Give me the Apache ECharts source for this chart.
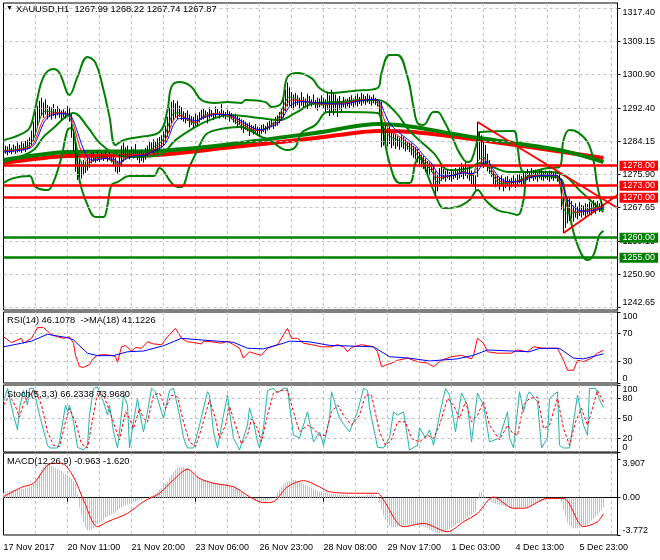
<!DOCTYPE html>
<html><head><meta charset="utf-8">
<script src="https://cdn.jsdelivr.net/npm/echarts@6/dist/echarts.min.js"></script>
<style>html,body{margin:0;padding:0;background:#fff}#c{width:660px;height:560px}</style>
</head><body><div id="c"></div>
<script>
// ---------- DATA ----------
const timeLabels = ["17 Nov 2017","20 Nov 11:00","21 Nov 20:00","23 Nov 06:00","26 Nov 23:00","28 Nov 08:00","29 Nov 17:00","1 Dec 03:00","4 Dec 13:00","5 Dec 23:00"];
const priceTicks = [1242.65,1250.90,1259.15,1267.65,1275.90,1284.15,1292.40,1300.90,1309.15,1317.40];
const rsiTicks = [0,30,70,100];
const rsiLevels = [70,30];
const stochTicks = [0,20,50,80,100];
const stochLevels = [80,50,20];
const macdTicks = [-3.772,0,3.907];
const macdTickLabels = ["-3.772","0.00","3.907"];
const resistanceLevels = [1278.00,1273.00,1270.00];
const supportLevels = [1260.00,1255.00];
const lastPrice = 1267.87;

// H1 bars: [low, high]
const bars = [
[1280.3,1283.6],[1281.0,1283.0],[1280.6,1282.8],[1281.2,1283.4],[1280.9,1282.5],[1281.4,1283.3],[1281.0,1282.9],[1281.3,1283.8],[1281.5,1283.2],[1281.2,1284.0],
[1281.8,1283.6],[1281.4,1284.2],[1282.0,1284.5],[1282.3,1285.1],[1283.0,1286.8],[1284.2,1289.0],[1285.5,1291.5],[1287.8,1293.0],[1289.0,1294.2],[1290.5,1295.0],
[1290.0,1293.8],[1290.8,1294.6],[1289.6,1293.2],[1290.2,1292.8],[1289.5,1292.6],[1290.4,1293.4],[1289.8,1292.2],[1290.6,1292.9],[1290.0,1292.4],[1289.4,1291.8],
[1290.2,1292.1],[1289.8,1291.6],[1290.4,1292.9],[1289.0,1292.5],[1285.0,1291.0],[1281.5,1287.0],[1276.5,1284.0],[1274.4,1281.0],[1275.2,1279.8],[1274.8,1279.0],
[1275.6,1279.4],[1276.2,1279.0],[1276.8,1280.2],[1277.5,1280.0],[1278.6,1281.2],[1279.0,1281.5],[1278.8,1280.6],[1279.2,1281.8],[1279.0,1280.9],[1279.5,1281.6],
[1279.2,1281.0],[1279.6,1281.9],[1279.0,1280.8],[1279.4,1281.4],[1278.8,1280.6],[1278.0,1280.2],[1276.5,1280.0],[1276.0,1279.2],[1276.4,1280.8],[1277.8,1283.0],
[1279.0,1283.8],[1279.5,1282.6],[1280.0,1283.0],[1279.6,1281.9],[1280.4,1282.8],[1279.8,1282.2],[1280.2,1283.4],[1279.4,1281.8],[1278.6,1281.5],[1279.2,1282.0],
[1278.8,1281.2],[1279.5,1282.4],[1280.2,1283.0],[1280.8,1284.2],[1281.2,1283.8],[1281.0,1284.6],[1281.6,1283.9],[1281.2,1284.8],[1282.0,1285.2],[1282.4,1285.6],
[1283.0,1286.6],[1283.8,1288.0],[1285.2,1290.2],[1286.4,1292.5],[1288.6,1294.0],[1289.4,1294.4],[1290.0,1293.6],[1289.6,1294.2],[1290.2,1293.0],[1289.4,1292.6],
[1289.0,1291.6],[1288.6,1291.2],[1289.2,1291.8],[1287.6,1290.8],[1288.2,1290.4],[1287.4,1290.2],[1288.0,1291.0],[1287.8,1290.6],[1288.8,1291.4],[1289.4,1292.0],
[1289.6,1292.2],[1290.0,1291.8],[1288.6,1291.4],[1289.8,1292.6],[1290.2,1291.9],[1289.4,1291.2],[1290.0,1292.8],[1290.6,1292.2],[1289.8,1291.6],[1290.4,1293.4],
[1290.0,1291.8],[1289.6,1291.4],[1290.2,1292.0],[1289.0,1291.6],[1289.6,1291.2],[1288.8,1290.8],[1288.4,1291.0],[1287.6,1290.4],[1288.2,1290.0],[1287.0,1289.6],
[1286.2,1289.4],[1287.0,1289.0],[1286.6,1288.6],[1285.4,1288.8],[1286.4,1288.2],[1285.8,1288.0],[1286.2,1288.4],[1285.6,1287.8],[1285.2,1287.6],[1286.0,1288.2],
[1286.4,1288.4],[1286.0,1288.0],[1286.8,1288.8],[1287.0,1289.2],[1287.6,1289.6],[1287.2,1289.0],[1287.8,1290.2],[1288.0,1290.6],[1288.6,1291.4],[1289.2,1292.4],
[1290.0,1294.6],[1291.6,1297.0],[1292.8,1298.8],[1293.0,1297.6],[1292.4,1296.4],[1292.0,1295.8],[1292.8,1296.2],[1293.2,1295.6],[1292.4,1295.0],[1293.0,1296.4],
[1292.6,1295.2],[1293.0,1294.8],[1292.2,1296.0],[1293.4,1295.4],[1292.8,1294.6],[1293.2,1295.8],[1292.4,1294.4],[1291.8,1295.0],[1292.6,1294.8],[1293.0,1295.6],
[1292.2,1295.0],[1291.4,1294.6],[1292.0,1296.4],[1290.4,1295.6],[1291.2,1297.0],[1290.6,1296.2],[1291.8,1295.8],[1290.2,1294.8],[1292.0,1295.4],[1291.4,1294.0],
[1292.6,1295.2],[1292.2,1294.6],[1292.8,1294.8],[1292.4,1295.2],[1293.0,1295.6],[1292.6,1294.8],[1293.2,1295.4],[1292.8,1296.0],[1293.4,1295.2],[1293.0,1296.2],
[1293.6,1295.8],[1293.2,1295.4],[1293.8,1296.0],[1293.4,1295.6],[1293.0,1295.2],[1293.6,1295.8],[1293.2,1295.0],[1292.8,1294.6],[1291.0,1294.4],[1282.6,1294.0],
[1283.0,1288.6],[1283.6,1288.2],[1282.8,1287.4],[1283.4,1287.8],[1282.4,1286.6],[1283.0,1286.0],[1282.2,1285.8],[1282.8,1285.4],[1282.0,1285.0],[1282.6,1285.6],
[1282.2,1285.2],[1281.6,1284.6],[1282.0,1284.2],[1281.4,1283.8],[1280.6,1283.6],[1280.0,1283.0],[1279.6,1282.6],[1278.8,1282.2],[1278.4,1281.4],[1277.6,1280.8],
[1277.2,1280.4],[1276.6,1279.8],[1276.0,1279.2],[1275.6,1278.8],[1276.4,1278.6],[1273.0,1278.0],[1270.4,1276.6],[1271.6,1276.0],[1273.4,1277.4],[1274.2,1277.8],
[1274.6,1277.2],[1274.0,1276.8],[1274.8,1277.0],[1274.4,1276.4],[1274.0,1277.2],[1274.6,1276.6],[1275.0,1277.4],[1274.4,1276.8],[1274.8,1277.6],[1275.2,1278.6],
[1274.6,1278.0],[1275.4,1278.8],[1274.8,1277.6],[1274.2,1278.2],[1273.4,1276.8],[1272.8,1276.2],[1272.0,1275.6],[1275.2,1288.9],[1279.6,1286.4],[1278.8,1285.6],
[1277.4,1284.0],[1277.8,1283.2],[1276.6,1281.0],[1276.0,1279.4],[1275.2,1278.0],[1273.4,1276.6],[1272.6,1275.8],[1273.2,1275.4],[1272.0,1275.0],[1272.8,1275.6],
[1271.6,1274.8],[1272.4,1275.2],[1273.0,1275.4],[1271.8,1274.6],[1272.6,1275.0],[1273.2,1275.6],[1272.4,1274.8],[1273.0,1275.8],[1273.6,1276.0],[1272.8,1275.4],
[1273.4,1276.2],[1274.0,1276.6],[1274.4,1277.2],[1274.0,1276.6],[1274.8,1277.4],[1274.2,1276.8],[1274.6,1277.0],[1274.0,1276.4],[1274.8,1276.8],[1274.4,1277.2],
[1274.2,1276.6],[1274.8,1276.8],[1274.4,1276.4],[1274.0,1276.8],[1274.6,1276.6],[1274.2,1276.2],[1274.8,1276.6],[1274.0,1276.2],[1273.0,1275.8],[1267.0,1274.6],
[1261.2,1270.0],[1262.4,1268.6],[1263.6,1269.4],[1264.2,1269.8],[1264.8,1269.2],[1264.0,1268.0],[1265.0,1268.6],[1264.6,1267.8],[1265.4,1268.8],[1265.0,1268.2],
[1265.6,1268.0],[1265.2,1268.6],[1265.8,1268.4],[1266.0,1269.0],[1265.6,1268.6],[1266.4,1269.4],[1266.0,1268.8],[1266.8,1269.2],[1266.4,1268.6],[1267.0,1269.0],
[1267.74,1268.22]
];

// moving averages [barIndex, price]
const maGreenFast = [[0,1281.8],[10,1282.4],[14,1283.8],[16,1286.0],[18,1289.4],[20,1291.4],[22,1291.6],[25,1291.4],[30,1291.0],[33,1290.2],[35,1286.6],[37,1282.0],[39,1278.6],[41,1277.8],[43,1278.6],[46,1280.0],[50,1280.2],[55,1278.8],[58,1278.2],[61,1280.6],[65,1281.0],[70,1280.6],[75,1282.6],[79,1284.0],[81,1286.0],[83,1289.0],[85,1291.0],[88,1291.2],[92,1289.4],[96,1288.6],[100,1290.4],[106,1291.0],[112,1290.4],[116,1289.0],[120,1287.6],[125,1286.8],[129,1287.0],[133,1288.0],[137,1289.6],[140,1293.0],[143,1295.2],[146,1294.6],[150,1294.0],[160,1293.2],[170,1293.8],[178,1294.6],[185,1294.4],[188,1292.6],[190,1287.8],[193,1285.4],[197,1284.4],[202,1283.0],[206,1281.2],[210,1278.6],[214,1276.8],[217,1273.8],[220,1275.0],[225,1275.6],[230,1276.6],[234,1275.4],[237,1279.0],[240,1280.2],[242,1278.0],[245,1275.4],[248,1273.6],[252,1273.6],[258,1274.4],[263,1275.6],[270,1275.6],[276,1275.4],[278,1273.6],[280,1267.6],[282,1266.0],[285,1266.2],[288,1266.4],[292,1267.0],[296,1267.6],[300,1267.9]];
const maRed = [[0,1281.6],[10,1282.2],[14,1283.0],[16,1284.6],[18,1287.4],[20,1289.6],[22,1290.6],[25,1291.2],[30,1291.2],[33,1290.6],[35,1288.2],[37,1284.6],[39,1281.4],[41,1279.4],[43,1278.8],[46,1279.6],[50,1280.0],[55,1279.2],[58,1278.4],[61,1280.0],[65,1280.8],[70,1280.8],[75,1282.0],[79,1283.2],[81,1284.6],[83,1287.0],[85,1289.4],[88,1290.6],[92,1289.6],[96,1288.8],[100,1290.2],[106,1291.0],[112,1290.6],[116,1289.6],[120,1288.2],[125,1287.0],[129,1286.8],[133,1287.8],[137,1289.0],[140,1291.6],[143,1294.2],[146,1294.4],[150,1294.2],[160,1293.4],[170,1293.6],[178,1294.4],[185,1294.6],[188,1293.4],[190,1290.0],[193,1286.8],[197,1285.6],[202,1283.8],[206,1282.2],[210,1279.6],[214,1277.6],[217,1275.0],[220,1275.2],[225,1275.6],[230,1276.4],[234,1275.8],[237,1277.6],[240,1279.6],[242,1278.6],[245,1276.2],[248,1274.2],[252,1273.8],[258,1274.2],[263,1275.4],[270,1275.6],[276,1275.6],[278,1274.4],[280,1270.6],[282,1267.6],[285,1266.6],[288,1266.4],[292,1266.8],[296,1267.4],[300,1267.8]];
const maBlue = [[0,1281.4],[10,1282.0],[14,1282.6],[16,1283.8],[18,1286.2],[20,1288.6],[22,1290.0],[25,1290.8],[30,1291.0],[33,1290.8],[35,1289.2],[37,1286.4],[39,1283.4],[41,1281.0],[43,1279.6],[46,1279.4],[50,1279.8],[55,1279.6],[58,1278.8],[61,1279.6],[65,1280.4],[70,1280.6],[75,1281.6],[79,1282.6],[81,1283.6],[83,1285.6],[85,1288.2],[88,1289.8],[92,1289.8],[96,1289.2],[100,1290.0],[106,1290.8],[112,1290.8],[116,1290.0],[120,1288.8],[125,1287.4],[129,1286.9],[133,1287.6],[137,1288.6],[140,1290.4],[143,1292.8],[146,1293.8],[150,1294.0],[160,1293.6],[170,1293.4],[178,1294.2],[185,1294.6],[188,1294.0],[190,1291.8],[193,1288.6],[197,1286.6],[202,1284.6],[206,1283.0],[210,1280.6],[214,1278.6],[217,1276.2],[220,1275.4],[225,1275.6],[230,1276.2],[234,1276.0],[237,1276.6],[240,1278.8],[242,1279.0],[245,1277.0],[248,1275.0],[252,1274.0],[258,1274.0],[263,1275.0],[270,1275.6],[276,1275.6],[278,1275.0],[280,1272.4],[282,1269.6],[285,1267.8],[288,1266.8],[292,1266.6],[296,1267.0],[300,1267.5]];
const maSlowGreen = [[0,1279.4],[32,1281.4],[76,1281.7],[110,1283.2],[156,1286.2],[188,1288.4],[205,1287.7],[222,1286.2],[238,1284.9],[255,1283.7],[280,1281.7],[300,1278.9]];
const maSlowRed = [[0,1278.7],[32,1280.4],[76,1280.7],[110,1282.4],[156,1284.9],[188,1286.7],[205,1286.4],[238,1284.4],[263,1282.7],[300,1279.9]];

// bollinger bands [barIndex, price]
const bandUpper = [[0,1284.4],[8,1285.7],[13,1287.4],[16,1292.7],[20,1300.2],[25,1302.2],[28,1301.2],[33,1295.7],[37,1300.2],[42,1305.2],[46,1303.7],[50,1296.9],[53,1290.2],[56,1283.2],[60,1284.4],[68,1285.2],[78,1286.4],[82,1291.9],[84,1297.7],[88,1298.9],[94,1297.7],[99,1294.4],[106,1293.7],[112,1293.9],[119,1293.7],[121,1294.4],[131,1293.9],[134,1292.7],[139,1293.7],[142,1300.2],[147,1301.2],[154,1299.9],[158,1297.4],[163,1296.2],[175,1296.7],[187,1297.4],[189,1301.2],[193,1305.7],[197,1305.7],[202,1300.2],[205,1292.7],[207,1288.7],[210,1288.2],[215,1291.4],[217,1291.4],[220,1289.4],[225,1284.4],[228,1281.2],[232,1278.9],[234,1279.4],[237,1284.4],[238,1286.4],[255,1286.7],[257,1282.7],[259,1276.9],[262,1276.4],[272,1277.4],[278,1277.7],[280,1284.4],[283,1286.9],[287,1286.4],[292,1283.9],[295,1279.4],[297,1272.7],[300,1266.9]];
const bandLower = [[0,1273.7],[5,1274.9],[13,1275.4],[16,1272.7],[22,1271.9],[25,1273.9],[29,1280.2],[32,1286.9],[34,1287.4],[36,1283.7],[38,1274.4],[42,1268.2],[46,1265.2],[50,1265.2],[52,1268.2],[54,1273.2],[57,1273.9],[63,1275.4],[75,1275.4],[78,1277.4],[84,1273.7],[87,1272.7],[89,1272.7],[93,1277.7],[97,1281.9],[101,1285.7],[106,1286.9],[118,1287.7],[129,1285.2],[133,1284.4],[142,1281.9],[146,1282.7],[149,1286.2],[156,1288.2],[162,1291.4],[170,1291.4],[187,1291.2],[189,1288.7],[193,1278.7],[198,1273.7],[203,1273.7],[206,1278.7],[208,1280.2],[212,1275.7],[217,1269.4],[220,1267.4],[227,1267.7],[233,1269.4],[237,1271.9],[241,1269.4],[247,1266.9],[253,1266.2],[257,1265.7],[260,1269.4],[262,1275.2],[268,1275.4],[278,1274.9],[281,1270.7],[283,1265.7],[287,1258.2],[292,1254.4],[295,1255.7],[298,1260.7],[300,1261.7]];
const bandMiddle = [[0,1278.9],[8,1280.2],[15,1281.9],[20,1285.2],[25,1287.4],[31,1290.2],[35,1291.2],[42,1287.7],[48,1283.7],[55,1281.2],[63,1280.2],[78,1280.7],[86,1284.4],[96,1287.7],[103,1289.4],[113,1290.7],[128,1289.9],[138,1289.4],[146,1291.2],[156,1293.7],[168,1293.9],[187,1294.4],[196,1291.4],[203,1286.7],[215,1281.2],[223,1276.9],[233,1277.4],[238,1278.7],[253,1276.4],[273,1276.4],[281,1275.4],[288,1271.9],[296,1268.2],[300,1266.4]];

// red trend lines (triangle) [barIndex, price]
const trendUpper = [[237,1288.93],[307,1267.43]];
const trendLower = [[280,1261.18],[307,1270.68]];

// RSI(14) and its MA(18)
const rsi = [[0,65],[4,57],[9,63],[10,56],[14,63],[17,78],[20,78],[24,68],[27,65],[30,63],[33,65],[35,56],[36,39],[38,23],[40,22],[43,26],[45,35],[47,39],[50,40],[54,39],[56,37],[57,29],[59,51],[61,53],[64,45],[66,50],[69,49],[72,58],[75,55],[79,54],[82,65],[86,77],[89,63],[92,58],[95,57],[99,55],[100,59],[104,58],[109,56],[112,59],[115,54],[118,49],[120,35],[123,44],[125,42],[129,39],[132,49],[137,54],[142,77],[144,63],[147,63],[150,56],[154,54],[159,51],[164,51],[167,54],[170,51],[172,44],[174,50],[179,54],[185,51],[187,44],[189,23],[191,25],[194,28],[197,32],[202,35],[207,30],[212,28],[215,23],[219,32],[224,37],[229,39],[234,34],[235,39],[237,63],[240,56],[242,44],[247,42],[254,42],[257,46.5],[262,44],[265,51],[270,49],[277,49],[280,32],[282,18],[285,18],[287,32],[290,30],[294,35],[297,42],[300,46.1]];
const rsiMa = [[0,51],[9,56],[14,59],[22,68.6],[32,63.8],[35,60.6],[42,42],[47,38.5],[55,38.5],[62,44],[70,45],[80,52.5],[89,63],[99,60.6],[115,57.3],[122,49],[130,48],[140,56],[143,59],[153,58],[163,53],[185,51],[193,37],[203,35],[213,31],[227,34],[235,39],[242,46.5],[263,44],[268,48.8],[278,48.8],[285,35],[290,34],[300,41.1]];

// Stochastic(5,3,3)
const stochMain = [[0,75],[2,95],[5,55],[7,33],[8,66],[10,92],[12,70],[13,95],[15,95],[18,55],[22,10],[23,6],[27,6],[28,15],[31,70],[32,60],[33,70],[35,45],[37,7],[40,3],[42,10],[43,55],[45,95],[47,97],[50,75],[52,55],[53,70],[55,30],[57,6],[58,30],[60,85],[62,70],[63,6],[65,45],[67,80],[68,60],[70,30],[72,60],[74,95],[76,90],[77,90],[80,50],[83,92],[85,95],[88,55],[90,21],[92,6],[95,6],[98,40],[102,90],[103,85],[105,30],[107,6],[110,55],[112,85],[113,60],[115,21],[118,3],[122,40],[123,66],[125,45],[127,15],[128,6],[130,36],[132,92],[135,95],[137,88],[140,95],[142,95],[143,70],[145,25],[148,21],[152,60],[155,15],[158,30],[160,10],[163,50],[164,90],[165,80],[168,50],[173,30],[177,60],[180,95],[182,92],[183,66],[187,7],[190,6],[193,21],[195,60],[197,55],[200,60],[203,3],[207,10],[208,36],[211,21],[213,33],[215,10],[218,55],[221,95],[223,85],[226,30],[229,88],[232,70],[234,15],[237,88],[240,70],[243,15],[248,21],[252,60],[253,21],[255,6],[258,90],[260,60],[262,85],[263,90],[267,75],[269,6],[272,21],[273,80],[277,90],[278,10],[280,6],[283,6],[287,85],[290,40],[292,25],[293,95],[296,95],[298,78],[300,66.2]];
const stochSignal = [[0,70],[3,85],[6,68],[8,52],[10,72],[13,85],[16,92],[19,70],[22,30],[25,10],[28,8],[31,45],[33,65],[36,45],[39,12],[42,6],[44,40],[47,88],[50,85],[53,62],[56,35],[58,18],[61,60],[63,50],[65,35],[68,65],[70,50],[72,45],[75,85],[78,88],[81,65],[84,85],[87,82],[90,45],[93,15],[96,8],[99,35],[103,78],[106,50],[108,20],[111,40],[113,68],[116,40],[119,12],[122,25],[124,50],[127,35],[129,15],[132,55],[135,88],[139,92],[142,92],[145,60],[148,30],[152,40],[155,35],[158,25],[161,25],[164,60],[167,70],[170,55],[174,40],[178,55],[181,85],[184,85],[188,30],[191,10],[194,18],[197,45],[201,45],[204,20],[208,15],[212,25],[215,20],[218,40],[222,80],[225,70],[228,50],[231,75],[234,45],[237,55],[240,75],[243,40],[248,18],[252,40],[254,30],[257,25],[260,70],[263,80],[267,82],[270,35],[273,40],[277,80],[280,35],[283,10],[286,45],[289,65],[292,40],[294,60],[297,92],[300,74]];

// MACD(12,26,9): histogram per bar, signal [barIndex, value]
const macdHist = [
0.5,0.6,0.6,0.7,0.7,0.8,0.8,0.8,0.9,0.9,
0.9,1.0,1.0,1.1,1.2,1.4,1.7,2.0,2.4,2.8,
3.1,3.3,3.5,3.4,3.2,3.1,3.0,2.9,2.8,2.7,
2.5,2.4,2.3,2.1,1.9,1.7,1.4,0.4,-1.0,-1.8,
-2.5,-3.0,-3.3,-3.3,-3.2,-3.1,-2.9,-2.7,-2.5,-2.4,
-2.2,-2.0,-1.9,-1.8,-1.7,-1.6,-1.5,-1.3,-1.1,-1.0,
-0.9,-0.8,-0.7,-0.6,-0.5,-0.4,-0.4,-0.3,-0.2,-0.2,
-0.1,-0.1,0.0,0.1,0.2,0.3,0.4,0.6,0.8,1.0,
1.2,1.4,1.6,2.0,2.3,2.6,2.8,3.0,3.1,3.1,
3.1,3.0,3.0,2.8,2.6,2.5,2.3,2.1,2.0,1.9,
1.8,1.7,1.6,1.6,1.5,1.5,1.4,1.4,1.4,1.3,
1.3,1.3,1.3,1.2,1.1,1.0,1.0,0.9,0.8,0.6,
0.4,0.2,0.1,0.0,-0.1,-0.2,-0.3,-0.3,-0.4,-0.4,
-0.4,-0.4,-0.3,-0.2,-0.1,0.0,0.2,0.5,0.8,1.1,
1.3,1.5,1.6,1.7,1.8,1.8,1.8,1.7,1.6,1.5,
1.4,1.3,1.2,1.1,1.0,0.9,0.8,0.7,0.6,0.6,
0.5,0.5,0.5,0.4,0.4,0.4,0.4,0.3,0.3,0.3,
0.3,0.3,0.3,0.2,0.2,0.2,0.2,0.2,0.2,0.2,
0.2,0.2,0.3,0.3,0.3,0.3,0.2,0.1,-0.5,-1.2,
-1.8,-2.3,-2.6,-2.8,-3.0,-3.0,-3.0,-2.9,-2.9,-2.8,
-2.8,-2.8,-2.7,-2.7,-2.7,-2.7,-2.7,-2.8,-2.8,-2.9,
-2.9,-3.0,-3.1,-3.2,-3.3,-3.4,-3.5,-3.6,-3.6,-3.5,
-3.5,-3.4,-3.3,-3.2,-3.0,-2.9,-2.8,-2.6,-2.5,-2.4,
-2.3,-2.1,-2.0,-1.8,-1.7,-1.5,-1.4,-0.2,0.5,0.6,
0.4,0.1,-0.1,-0.2,-0.4,-0.5,-0.6,-0.7,-0.7,-0.8,
-0.8,-0.9,-0.9,-1.0,-1.0,-1.0,-1.1,-1.1,-1.1,-1.0,
-1.0,-1.0,-0.9,-0.9,-0.8,-0.7,-0.6,-0.5,-0.4,-0.4,
-0.3,-0.3,-0.2,-0.2,-0.1,-0.1,-0.1,-0.1,-0.1,-0.4,
-1.2,-1.9,-2.5,-2.8,-3.0,-3.1,-3.1,-3.1,-3.0,-2.9,
-2.8,-2.8,-2.7,-2.5,-2.3,-2.1,-1.9,-1.7,-1.5,-1.3,
-0.963
];
const macdSignal = [[0,0.1],[9,1.05],[15,1.46],[24,3.48],[29,3.48],[35,2.1],[40,-0.23],[47,-2.93],[52,-2.43],[62,-1.58],[70,-0.4],[78,0.45],[85,1.8],[92,2.87],[98,1.96],[105,1.46],[115,1.1],[123,0.1],[130,-0.5],[135,-0.4],[142,1.1],[150,1.72],[158,1.1],[163,0.6],[175,0.45],[187,0.45],[190,-0.23],[200,-2.93],[210,-2.6],[222,-3.44],[230,-2.43],[237,-1.58],[245,0.07],[255,-1.07],[260,-1.07],[272,-0.07],[280,-0.07],[290,-2.93],[297,-2.43],[300,-1.62]];

// ---------- CHART ----------
const FONT = 'Liberation Sans';
const NCAT = 308;
const cats = []; for (let i = 0; i < NCAT; i++) cats.push(i);
const GRIDLINE = {color:'#c0c0c0', type:[3,3], width:1};
const chart = echarts.init(document.getElementById('c'), null, {renderer:'canvas', width:660, height:560});

const gridDefs = [
  {left:3.5, right:42.5, top:3, height:307},
  {left:3.5, right:42.5, top:312, height:71},
  {left:3.5, right:42.5, top:385, height:67},
  {left:3.5, right:42.5, top:453, height:82}
].map(g => Object.assign(g, {show:true, borderColor:'#000', borderWidth:1, backgroundColor:'#fff'}));

function xAxisFor(gi, showLabels) {
  return {
    type:'category', gridIndex:gi, data:cats, boundaryGap:false,
    axisLine:{show:showLabels, lineStyle:{color:'#000'}},
    axisTick:{show:showLabels, interval:(i)=> i % 32 === 0, length:4, lineStyle:{color:'#000'}},
    axisLabel:{show:showLabels, interval:(i)=> i % 32 === 0,
      formatter:(v, i)=> (i % 32 === 0 && timeLabels[i/32]) ? timeLabels[i/32] : '',
      align:'left', margin:8, fontSize:9, fontFamily:FONT, color:'#000'},
    splitLine:{show:true, interval:(i)=> i % 16 === 0 && i > 0, lineStyle:GRIDLINE}
  };
}
function yAxisFor(gi, min, max, ticks, fmt) {
  return {
    type:'value', gridIndex:gi, position:'right', min:min, max:max,
    axisLine:{show:true, lineStyle:{color:'#000'}},
    axisTick:{show:true, customValues:ticks, length:3, lineStyle:{color:'#000'}},
    axisLabel:{show:true, customValues:ticks, formatter:fmt, margin:5, fontSize:9, fontFamily:FONT, color:'#000',
      verticalAlignMinLabel:'bottom', verticalAlignMaxLabel:'top'},
    splitLine:{show:false}
  };
}

function gridLines(gi, values) {
  return {type:'line', xAxisIndex:gi, yAxisIndex:gi, data:[], silent:true, z:1,
    markLine:{silent:true, symbol:'none', animation:false, label:{show:false}, lineStyle:GRIDLINE,
      data: values.map(v => ({yAxis:v}))}};
}
function lineSeries(gi, data, color, width, extra) {
  return Object.assign({type:'line', xAxisIndex:gi, yAxisIndex:gi, data:data, symbol:'none', silent:true,
    lineStyle:{color:color, width:width}, itemStyle:{color:color}, z:2}, extra || {});
}
function levelItem(v, lineColor, boxColor, showLine) {
  return {yAxis:v, lineStyle:{color:lineColor, width: showLine ? 2.5 : 0, type:'solid', opacity: showLine ? 1 : 0},
    label:{show:true, position:'end', distance:2, formatter: v.toFixed(2), color:'#fff', backgroundColor:boxColor,
      padding:[1,3,0,3], fontSize:9, fontFamily:FONT}};
}

const levelData = []
  .concat(resistanceLevels.map(v => levelItem(v, '#ff0000', '#ff0000', true)))
  .concat(supportLevels.map(v => levelItem(v, '#008000', '#008000', true)))
  .concat([levelItem(lastPrice, '#000', '#000', false)]);

const series = [
  gridLines(0, priceTicks),
  gridLines(1, rsiLevels),
  gridLines(2, stochLevels),
  // main panel
  lineSeries(0, maSlowRed, '#ff0000', 4, {smooth:0.3}),
  lineSeries(0, maSlowGreen, '#008000', 4, {smooth:0.3}),
  lineSeries(0, bandUpper, '#008000', 2, {smooth:0.4}),
  lineSeries(0, bandLower, '#008000', 2, {smooth:0.4}),
  lineSeries(0, bandMiddle, '#008000', 2, {smooth:0.4}),
  {type:'line', xAxisIndex:0, yAxisIndex:0, data:[], silent:true, z:3,
    markLine:{silent:true, symbol:'none', animation:false, data: levelData}},
  lineSeries(0, trendUpper, '#ff0000', 2, {z:3}),
  lineSeries(0, trendLower, '#ff0000', 2, {z:3}),
  {type:'candlestick', xAxisIndex:0, yAxisIndex:0, silent:true, z:4, barWidth:1,
    data: bars.map(b => [b[0], b[1], b[0], b[1]]),
    itemStyle:{color:'#000', color0:'#000', borderColor:'#000', borderColor0:'#000', borderWidth:1}},
  lineSeries(0, maGreenFast, '#008000', 1, {smooth:0.3, z:5}),
  lineSeries(0, maRed, '#ff0000', 1, {smooth:0.3, z:5}),
  lineSeries(0, maBlue, '#0000ff', 1, {smooth:0.3, z:5}),
  // RSI
  lineSeries(1, rsi, '#ff0000', 1),
  lineSeries(1, rsiMa, '#0000ff', 1),
  // Stochastic
  lineSeries(2, stochMain, '#20b2aa', 1),
  lineSeries(2, stochSignal, '#ff0000', 1, {lineStyle:{color:'#ff0000', width:1, type:[3,2]}}),
  // MACD
  {type:'bar', xAxisIndex:3, yAxisIndex:3, data:macdHist, barWidth:1, silent:true, itemStyle:{color:'#c0c0c0'}, z:2},
  lineSeries(3, macdSignal, '#ff0000', 1, {smooth:0.3, z:3})
];

const titleStyle = {fontSize:9.3, fontFamily:FONT, color:'#000', fontWeight:'normal'};
const option = {
  animation:false,
  backgroundColor:'#fff',
  title:[
    {text:'▼', left:6, top:5, padding:0, textStyle:{fontSize:7, color:'#000', fontWeight:'normal'}},
    {text:'XAUUSD,H1  1267.99 1268.22 1267.74 1267.87', left:16, top:5, padding:0, textStyle:titleStyle},
    {text:'RSI(14) 46.1078  ->MA(18) 41.1226', left:7, top:316, padding:0, textStyle:titleStyle},
    {text:'Stoch(5,3,3) 66.2338 73.9680', left:7, top:390, padding:0, textStyle:titleStyle},
    {text:'MACD(12,26,9) -0.963 -1.620', left:7, top:457, padding:0, textStyle:titleStyle}
  ],
  grid: gridDefs,
  xAxis: [xAxisFor(0,false), xAxisFor(1,false), xAxisFor(2,false), xAxisFor(3,true)],
  yAxis: [
    yAxisFor(0, 1241.925, 1318.675, priceTicks, v => v.toFixed(2)),
    yAxisFor(1, 0, 100, rsiTicks, v => String(Math.round(v))),
    yAxisFor(2, 0, 100, stochTicks, v => String(Math.round(v))),
    yAxisFor(3, -3.772, 4.52, macdTicks, v => {
      const k = macdTicks.findIndex(t => Math.abs(t - v) < 1e-6);
      return k >= 0 ? macdTickLabels[k] : '';
    })
  ],
  series: series
};
chart.setOption(option);
</script>
</body></html>
